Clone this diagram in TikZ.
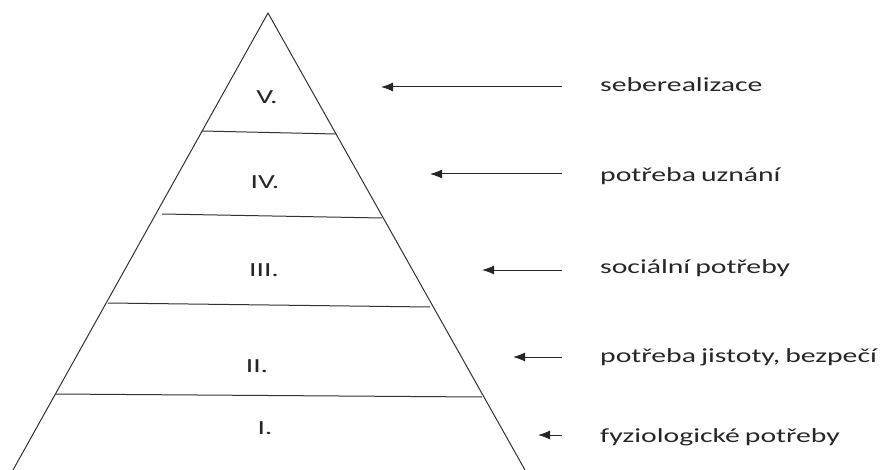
\documentclass[tikz,border=0pt]{standalone}
\usepackage{fontspec}
\setmainfont{Carlito}
\usepackage{tikz}
\usetikzlibrary{arrows.meta, positioning, calc}
\newcommand{\wide}[1]{\scalebox{1.485}[1]{\spaceskip=0.17em\relax #1}}

\begin{document}
\begin{tikzpicture}[x=1pt, y=-1pt, >={Latex[length=12pt, width=9pt]},
    edge/.style={draw=black!80, line width=1pt},
    level/.style={font=\fontsize{20}{24}\selectfont, text=black!85},
    need/.style={font=\fontsize{20}{24}\selectfont, text=black!85, anchor=west, inner sep=0pt}]
  \useasboundingbox (0, 0) rectangle (890, 470);

  % pyramid outline
  \coordinate (Top) at (268, 13);
  \coordinate (BL) at (13, 470);
  \coordinate (BR) at (525, 470);
  \draw[edge] (BL) -- (Top) -- (BR);

  % dividing lines
  \coordinate (L4) at (202, 131);  \coordinate (R4) at (336, 134);
  \coordinate (L3) at (162, 214);  \coordinate (R3) at (382, 218);
  \coordinate (L2) at (108, 303);  \coordinate (R2) at (430, 307);
  \coordinate (L1) at (55, 394);   \coordinate (R1) at (482, 397);
  \draw[edge] (L4) -- (R4);
  \draw[edge] (L3) -- (R3);
  \draw[edge] (L2) -- (R2);
  \draw[edge] (L1) -- (R1);

  % level numbers
  \node[level] (lv5) at (267, 97) {\wide{V.}};
  \node[level] (lv4) at (265, 182) {\wide{IV.}};
  \node[level] (lv3) at (264, 270) {\wide{III.}};
  \node[level] (lv2) at (257, 366) {\wide{II.}};
  \node[level] (lv1) at (265, 428) {\wide{I.}};

  % needs
  \node[need] (n5) at (600, 85) {\wide{seberealizace}};
  \node[need] (n4) at (600, 176) {\wide{potřeba uznání}};
  \node[need] (n3) at (600, 268) {\wide{sociální potřeby}};
  \node[need] (n2) at (600, 357) {\wide{potřeba jistoty, bezpečí}};
  \node[need] (n1) at (600, 437) {\wide{fyziologické potřeby}};

  % arrows
  \coordinate (t5) at (562, 87);  \coordinate (h5) at (381, 87);
  \coordinate (t4) at (562, 174); \coordinate (h4) at (430, 174);
  \coordinate (t3) at (562, 270); \coordinate (h3) at (482, 270);
  \coordinate (t2) at (562, 357); \coordinate (h2) at (513, 357);
  \coordinate (t1) at (562, 435); \coordinate (h1) at (538, 435);
  \foreach \i in {1,...,5}
    \draw[->, line width=1pt, black!85] (t\i) -- (h\i);
\end{tikzpicture}
\end{document}
